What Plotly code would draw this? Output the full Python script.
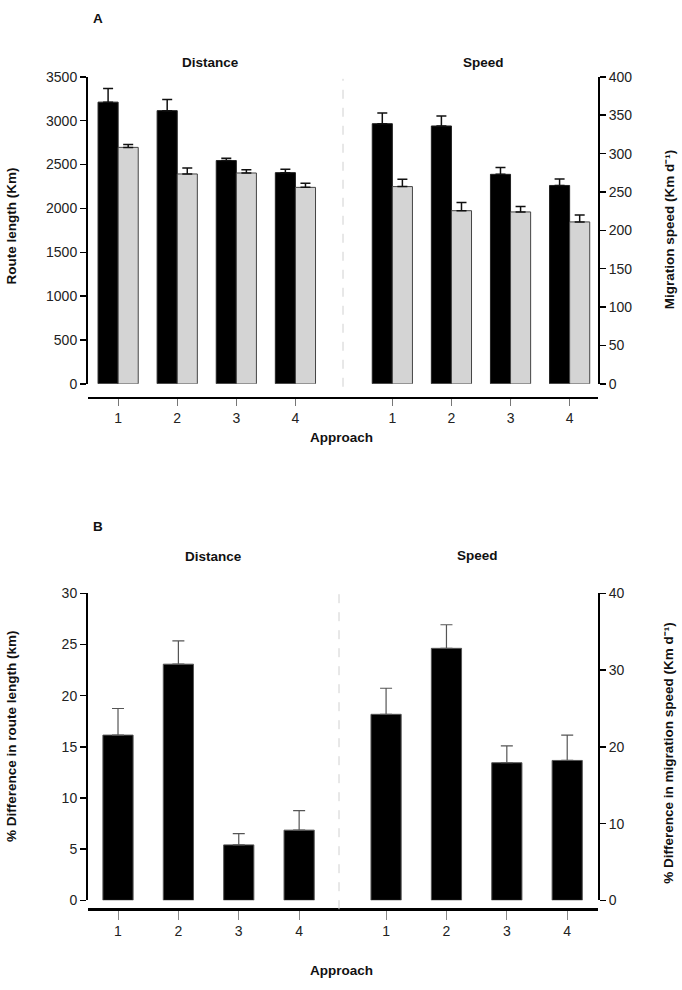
import plotly.graph_objects as go

# ---------------- data ----------------
approach = ["1", "2", "3", "4"]

# Panel A - Distance (route length, km)
dist_black = [3212, 3115, 2546, 2408]
dist_black_err = [155, 127, 26, 38]
dist_gray = [2696, 2393, 2404, 2240]
dist_gray_err = [33, 67, 38, 48]

# Panel A - Speed (migration speed, km/d)
speed_black = [339, 336, 273, 258.5]
speed_black_err = [14, 13, 9, 8.5]
speed_gray = [257, 225.6, 224, 211]
speed_gray_err = [9.5, 10.7, 7, 9]

# Panel B - % difference
pdiff_dist = [16.15, 23.08, 5.42, 6.86]
pdiff_dist_err = [2.6, 2.27, 1.1, 1.9]
pdiff_speed = [24.24, 32.84, 17.93, 18.23]
pdiff_speed_err = [3.4, 3.07, 2.2, 3.3]

# x positions (numeric slots)
xA_dist = [1, 2, 3, 4]
xA_speed = [5.64, 6.64, 7.64, 8.64]
xB_dist = [1, 2, 3, 4]
xB_speed = [5.44, 6.44, 7.44, 8.44]

W, H = 682, 990
FONT = "Liberation Sans"


def py(p):
    return 1 - p / H


def px(p):
    return p / W


fig = go.Figure()

zeros = [0, 0, 0, 0]


def err(arr, color, thick, width):
    return dict(type="data", array=arr, arrayminus=zeros, symmetric=False,
                color=color, thickness=thick, width=width)


# Panel A bars
bwA = 0.34
fig.add_trace(go.Bar(x=xA_dist, y=dist_black, width=bwA, offset=-bwA,
                     marker=dict(color="black", line=dict(color="#222", width=1)),
                     error_y=err(dist_black_err, "#111", 1.5, 5), xaxis="x", yaxis="y"))
fig.add_trace(go.Bar(x=xA_dist, y=dist_gray, width=bwA, offset=0,
                     marker=dict(color="#d4d4d4", line=dict(color="#444", width=1)),
                     error_y=err(dist_gray_err, "#111", 1.5, 5), xaxis="x", yaxis="y"))
fig.add_trace(go.Bar(x=xA_speed, y=speed_black, width=bwA, offset=-bwA,
                     marker=dict(color="black", line=dict(color="#222", width=1)),
                     error_y=err(speed_black_err, "#111", 1.5, 5), xaxis="x", yaxis="y2"))
fig.add_trace(go.Bar(x=xA_speed, y=speed_gray, width=bwA, offset=0,
                     marker=dict(color="#d4d4d4", line=dict(color="#444", width=1)),
                     error_y=err(speed_gray_err, "#111", 1.5, 5), xaxis="x", yaxis="y2"))

# Panel B bars
bwB = 0.5
fig.add_trace(go.Bar(x=xB_dist, y=pdiff_dist, width=bwB,
                     marker=dict(color="black", line=dict(color="#555", width=1)),
                     error_y=err(pdiff_dist_err, "#555", 1.2, 6), xaxis="x2", yaxis="y3"))
fig.add_trace(go.Bar(x=xB_speed, y=pdiff_speed, width=bwB,
                     marker=dict(color="black", line=dict(color="#555", width=1)),
                     error_y=err(pdiff_speed_err, "#555", 1.2, 6), xaxis="x2", yaxis="y4"))

tickfont = dict(family=FONT, size=14, color="#222")
xdom = [px(88), px(598)]

fig.update_layout(
    width=W, height=H, margin=dict(l=0, r=0, t=0, b=0),
    paper_bgcolor="white", plot_bgcolor="white",
    showlegend=False, barmode="overlay",
    font=dict(family=FONT, size=14, color="#222"),
    xaxis=dict(domain=xdom, range=[0.49, 9.12], anchor="free", position=py(396),
               tickvals=xA_dist + xA_speed, ticktext=approach + approach,
               showline=True, linecolor="black", linewidth=2.5,
               ticks="outside", ticklen=7, tickcolor="#777", tickwidth=1,
               showgrid=False, zeroline=False, tickfont=tickfont, fixedrange=True),
    yaxis=dict(domain=[py(382), py(70)], range=[0, 3500], dtick=500,
               showline=True, linecolor="black", linewidth=2,
               ticks="outside", ticklen=6, tickcolor="black", tickwidth=1.5,
               showgrid=False, zeroline=False, tickfont=tickfont, anchor="x"),
    yaxis2=dict(domain=[py(382), py(70)], range=[0, 400], dtick=50, overlaying="y",
                side="right", anchor="x",
                showline=True, linecolor="black", linewidth=2,
                ticks="outside", ticklen=6, tickcolor="black", tickwidth=1.5,
                showgrid=False, zeroline=False, tickfont=tickfont),
    xaxis2=dict(domain=xdom, range=[0.503, 8.95], anchor="free", position=py(916),
                tickvals=xB_dist + xB_speed, ticktext=approach + approach,
                showline=True, linecolor="black", linewidth=2.5,
                ticks="outside", ticklen=9, tickcolor="#888", tickwidth=1,
                showgrid=False, zeroline=False, tickfont=tickfont, fixedrange=True),
    yaxis3=dict(domain=[py(907), py(595)], range=[0, 30], dtick=5,
                showline=True, linecolor="black", linewidth=2,
                ticks="outside", ticklen=6, tickcolor="black", tickwidth=1.5,
                showgrid=False, zeroline=False, tickfont=tickfont, anchor="x2"),
    yaxis4=dict(domain=[py(907), py(595)], range=[0, 40], dtick=10, overlaying="y3",
                side="right", anchor="x2",
                showline=True, linecolor="black", linewidth=2,
                ticks="outside", ticklen=6, tickcolor="black", tickwidth=1.5,
                showgrid=False, zeroline=False, tickfont=tickfont),
)

# dashed separators
fig.add_shape(type="line", xref="paper", yref="paper", x0=px(343), x1=px(343),
              y0=py(385), y1=py(72), line=dict(color="#d0d0d0", width=1, dash="dash"))
fig.add_shape(type="line", xref="paper", yref="paper", x0=px(339), x1=px(339),
              y0=py(916), y1=py(595), line=dict(color="#d0d0d0", width=1, dash="dash"))


def ann(text, x, y, angle=0, size=13.5):
    fig.add_annotation(text=text, xref="paper", yref="paper", x=px(x), y=py(y),
                       showarrow=False, textangle=angle, xanchor="center", yanchor="middle",
                       font=dict(family=FONT, size=size, color="#111"))


ann("<b>A</b>", 98, 11)
ann("<b>Distance</b>", 210, 55)
ann("<b>Speed</b>", 483, 55)
ann("<b>Approach</b>", 341, 437)
ann("<b>Route length (Km)</b>", 11, 222, angle=-90)
ann("<b>Migration speed (Km d\u207b\u00b9)</b>", 669, 225, angle=-90)

ann("<b>B</b>", 98, 527)
ann("<b>Distance</b>", 213, 558)
ann("<b>Speed</b>", 477, 557)
ann("<b>Approach</b>", 341, 978)
ann("<b>% Difference in route length (km)</b>", 11, 740, angle=-90)
ann("<b>% Difference in migration speed (Km d\u207b\u00b9)</b>", 669, 757, angle=-90)

# remove the browser's default 8px body margin so the figure fills the window
fig.write_html("out.html",
               config={"displayModeBar": False, "staticPlot": True},
               post_script="document.body.style.margin='0';document.body.style.overflow='hidden';")
